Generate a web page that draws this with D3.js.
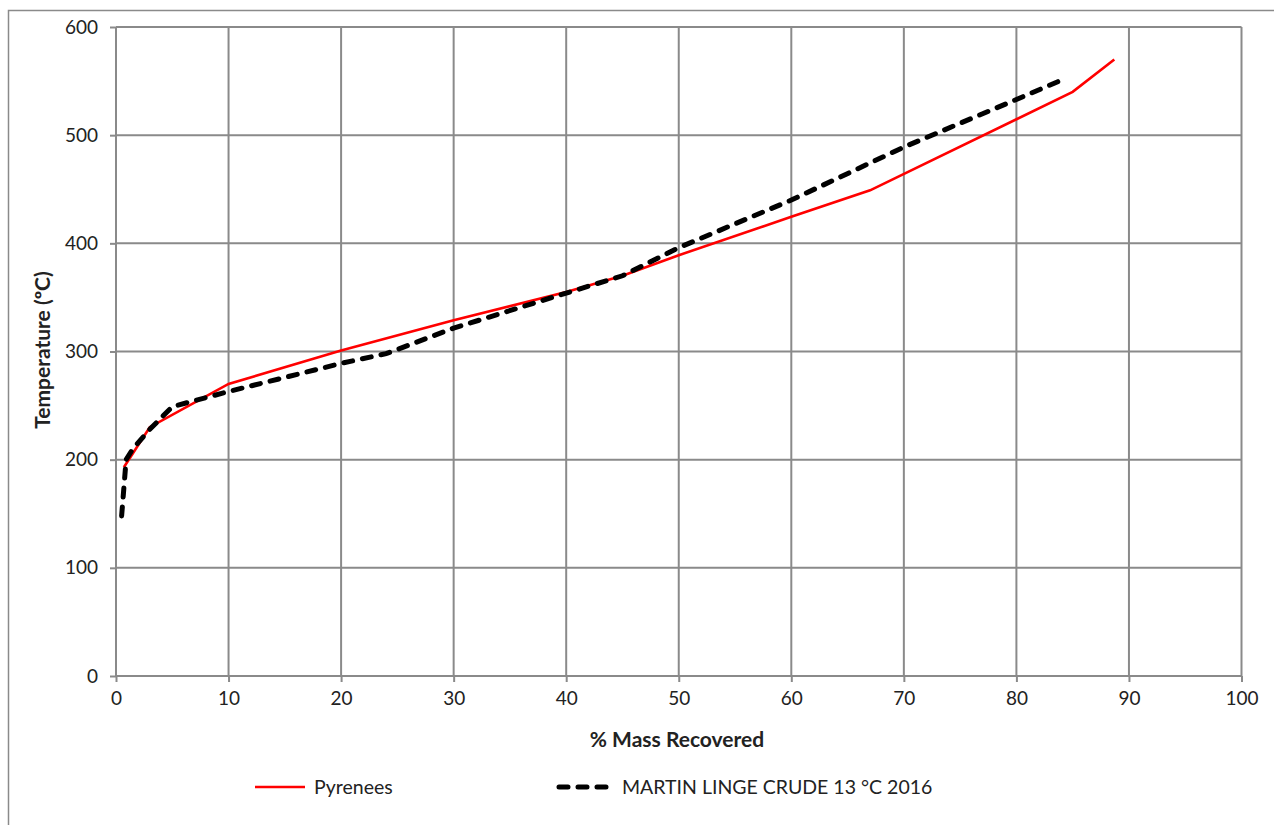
<!DOCTYPE html>
<html><head><meta charset="utf-8">
<script src="https://cdn.jsdelivr.net/npm/d3@7"></script>
<style>body{margin:0;background:#fff;} text{font-family:Lato,"Open Sans",sans-serif;fill:#222;}</style>
</head><body>
<svg id="c" width="1274" height="825"></svg>
<script>
const pyrMass = [0.7, 3, 10, 20, 30, 40, 45, 50, 60, 67, 85, 88.7];
const pyrTemp = [193, 230, 270, 301, 329, 355, 370, 389, 424.5, 449, 540, 570];
const mlMass = [0.5, 0.9, 1.5, 3, 5, 10, 20, 24, 30, 40, 45, 50, 60, 70, 80, 83.8];
const mlTemp = [148, 200, 210, 228, 249, 263, 289, 298, 321.6, 354, 370, 396, 440, 489, 533, 550];
const xTicks = [0,10,20,30,40,50,60,70,80,90,100];
const yTicks = [0,100,200,300,400,500,600];
const seriesNames = ["Pyrenees", "MARTIN LINGE CRUDE 13 °C 2016"];

const svg = d3.select("#c");
const grid = "#8a8a8a";
svg.append("rect").attr("x",8.5).attr("y",10.5).attr("width",1300).attr("height",900)
  .attr("fill","none").attr("stroke",grid).attr("stroke-width",1.5);

const x = d3.scaleLinear().domain([0,100]).range([116,1241.5]);
const y = d3.scaleLinear().domain([0,600]).range([676,27]);

const g = svg.append("g");
g.selectAll(".vg").data(xTicks).join("line")
  .attr("x1",d=>x(d)).attr("x2",d=>x(d)).attr("y1",y(0)).attr("y2",y(600))
  .attr("stroke",grid).attr("stroke-width",2);
g.selectAll(".hg").data(yTicks).join("line")
  .attr("x1",x(0)).attr("x2",x(100)).attr("y1",d=>y(d)).attr("y2",d=>y(d))
  .attr("stroke",grid).attr("stroke-width",2);

const xa = svg.append("g").attr("transform",`translate(0,${y(0)})`)
  .call(d3.axisBottom(x).tickValues(xTicks).tickSize(6).tickPadding(10));
const ya = svg.append("g").attr("transform",`translate(${x(0)},0)`)
  .call(d3.axisLeft(y).tickValues(yTicks).tickSize(6).tickPadding(12));
[xa,ya].forEach(a=>{
  a.select(".domain").remove();
  a.selectAll("line").attr("stroke",grid).attr("stroke-width",2);
  a.selectAll("text").attr("font-size",19).attr("font-family","Lato, sans-serif").attr("fill","#222");
});

const line = d3.line().x(d=>x(d[0])).y(d=>y(d[1]));
const pyr = pyrMass.map((m,i)=>[m,pyrTemp[i]]);
const ml = mlMass.map((m,i)=>[m,mlTemp[i]]);
svg.append("path").attr("d",line(pyr)).attr("fill","none").attr("stroke","#ff0000").attr("stroke-width",2.6);
svg.append("path").attr("d",line(ml)).attr("fill","none").attr("stroke","#000").attr("stroke-width",5)
  .attr("stroke-dasharray","9,10").attr("stroke-linecap","round");

svg.append("text").attr("x",677).attr("y",747).attr("text-anchor","middle")
  .attr("font-size",21).attr("font-weight","bold").text("% Mass Recovered");
svg.append("text").attr("transform","translate(50,350) rotate(-90)").attr("text-anchor","middle")
  .attr("font-size",21).attr("font-weight","bold").text("Temperature (ºC)");

const ly = 787;
svg.append("line").attr("x1",255).attr("x2",305).attr("y1",ly).attr("y2",ly).attr("stroke","#ff0000").attr("stroke-width",2.6);
svg.append("text").attr("x",314).attr("y",ly+7).attr("font-size",19.5).text(seriesNames[0]);
svg.append("line").attr("x1",559).attr("x2",613).attr("y1",ly).attr("y2",ly).attr("stroke","#000").attr("stroke-width",5)
  .attr("stroke-dasharray","9,10").attr("stroke-linecap","round");
svg.append("text").attr("x",622).attr("y",ly+7).attr("font-size",19.5).text(seriesNames[1]);
</script>
</body></html>
